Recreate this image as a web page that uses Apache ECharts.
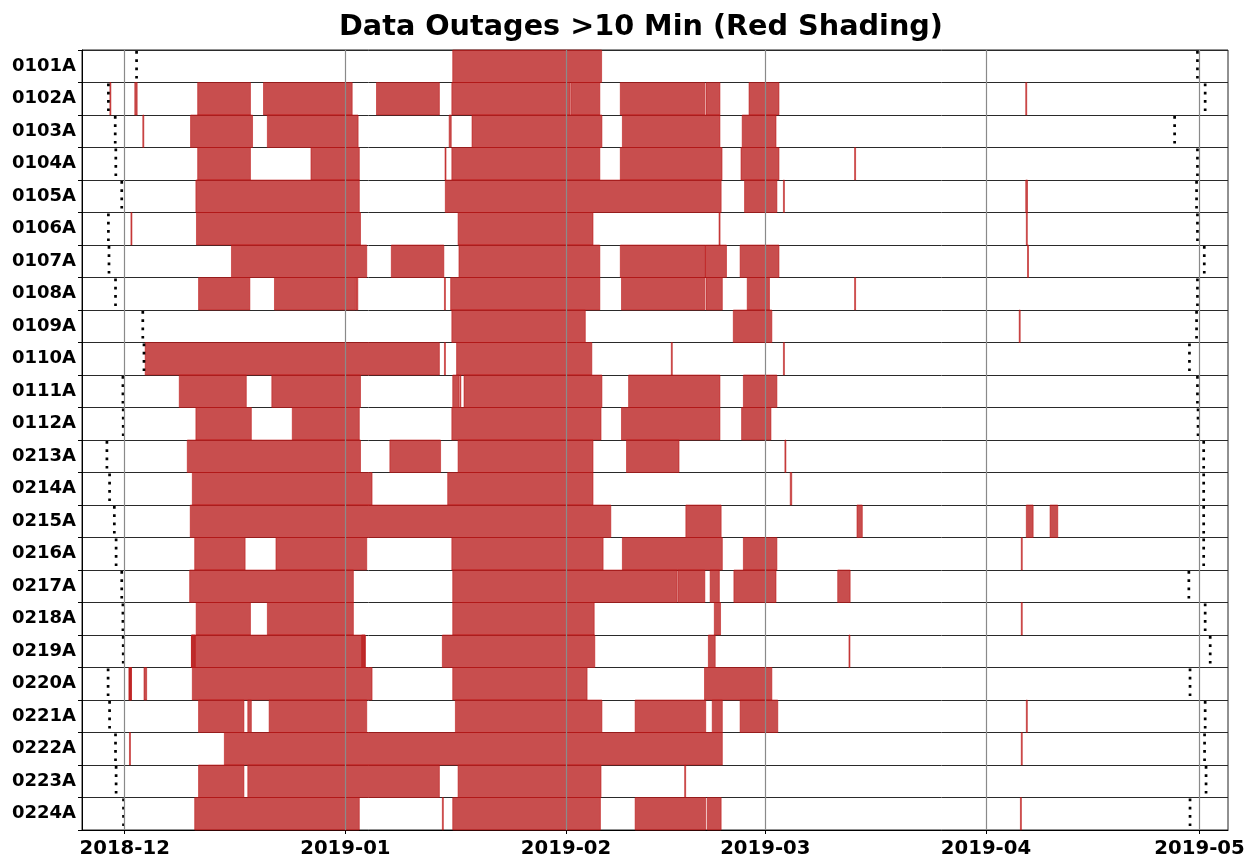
<!DOCTYPE html>
<html>
<head>
<meta charset="utf-8">
<script src="https://cdn.jsdelivr.net/npm/echarts@6/dist/echarts.min.js"></script>
<style>
  html, body { margin: 0; padding: 0; background: #fff; }
  #chart { width: 1255px; height: 859px; }
</style>
</head>
<body>
<div id="chart"></div>
<script>
// station rows, top to bottom
var stations = ['0101A','0102A','0103A','0104A','0105A','0106A','0107A','0108A',
                '0109A','0110A','0111A','0112A','0213A','0214A','0215A','0216A',
                '0217A','0218A','0219A','0220A','0221A','0222A','0223A','0224A'];

// month ticks on the time axis
var monthTicks = ['12-01 00','01-01 00','02-01 00','03-01 00','04-01 00','05-01 00'];

// first / last record of each station (dotted lines), 'MM-DD HH'
var firstSeen = ['12-02 16','11-28 17','11-29 16','11-29 18','11-30 14','11-28 17','11-28 19','11-29 17',
                 '12-03 13','12-03 17','11-30 18','11-30 19','11-28 12','11-28 21','11-29 13','11-29 19',
                 '11-30 14','11-30 18','11-30 19','11-28 16','11-28 21','11-29 17','11-29 19','11-30 20'];
var lastSeen  = ['04-30 17','05-01 19','04-27 12','04-30 17','04-30 14','04-30 17','05-01 16','04-30 17',
                 '04-30 14','04-29 14','04-30 17','04-30 19','05-01 14','05-01 14','05-01 14','05-01 14',
                 '04-29 12','05-01 19','05-02 12','04-29 16','05-01 19','05-01 17','05-01 22','04-29 16'];

// outages longer than 10 minutes, per station: [start, end]
var outages = [
  [['01-16 02','02-06 00']],
  [['11-28 22','11-29 01'],['12-02 10','12-02 18'],['12-11 06','12-18 16'],['12-20 12','01-01 23'],
   ['01-05 09','01-14 05'],['01-15 23','02-01 14'],['02-01 17','02-05 18'],['02-08 15','02-20 12'],
   ['02-20 16','02-22 15'],['02-26 17','03-02 22'],['04-06 14','04-06 17']],
  [['12-03 13','12-03 16'],['12-10 06','12-18 23'],['12-21 01','01-02 19'],['01-15 14','01-15 21'],
   ['01-18 19','02-06 01'],['02-08 22','02-22 15'],['02-25 18','03-02 12']],
  [['12-11 06','12-18 16'],['12-27 04','01-02 23'],['01-15 00','01-15 03'],['01-15 23','02-05 18'],
   ['02-08 15','02-22 22'],['02-25 14','03-02 22'],['03-13 13','03-13 16']],
  [['12-11 00','01-02 23'],['01-15 01','02-22 19'],['02-26 02','03-02 15'],['03-03 13','03-03 16'],
   ['04-06 14','04-06 20']],
  [['12-01 21','12-02 00'],['12-11 02','01-03 03'],['01-16 20','02-04 19'],['02-22 12','02-22 15'],
   ['04-06 16','04-06 19']],
  [['12-16 00','01-04 00'],['01-07 11','01-14 20'],['01-16 23','02-05 18'],['02-08 15','02-20 14'],
   ['02-20 14','02-23 13'],['02-25 11','03-02 22'],['04-06 20','04-06 23']],
  [['12-11 09','12-18 14'],['12-22 01','01-02 10'],['01-02 12','01-02 18'],['01-14 22','01-15 01'],
   ['01-15 19','02-05 18'],['02-08 19','02-20 12'],['02-20 16','02-22 23'],['02-26 11','03-01 14'],
   ['03-13 13','03-13 16']],
  [['01-15 23','02-03 17'],['02-24 12','03-01 22'],['04-05 16','04-05 19']],
  [['12-03 21','01-14 05'],['01-14 22','01-15 01'],['01-16 15','02-04 15'],['02-15 19','02-15 22'],
   ['03-03 13','03-03 16']],
  [['12-08 16','12-18 02'],['12-21 16','01-03 03'],['01-16 02','01-16 23'],['01-17 02','01-17 05'],
   ['01-17 16','02-06 01'],['02-09 19','02-22 15'],['02-25 22','03-02 15']],
  [['12-11 00','12-18 19'],['12-24 13','01-02 23'],['01-15 23','02-05 22'],['02-08 19','02-22 15'],
   ['02-25 16','03-01 19']],
  [['12-09 19','01-03 03'],['01-07 06','01-14 09'],['01-16 20','02-04 19'],['02-09 12','02-16 21'],
   ['03-03 18','03-03 21']],
  [['12-10 12','01-04 18'],['01-15 09','02-04 19'],['03-04 12','03-04 17']],
  [['12-10 05','02-07 07'],['02-17 20','02-22 19'],['03-13 21','03-14 15'],['04-06 16','04-07 15'],
   ['04-10 00','04-11 02']],
  [['12-10 20','12-17 22'],['12-22 06','01-04 00'],['01-15 23','02-06 05'],['02-08 22','02-22 23'],
   ['02-25 22','03-02 15'],['04-05 23','04-06 02']],
  [['12-10 03','01-02 03'],['01-16 02','02-16 14'],['02-16 17','02-20 12'],['02-21 06','02-22 13'],
   ['02-24 14','03-02 12'],['03-11 04','03-12 22']],
  [['12-11 01','12-18 16'],['12-21 01','01-02 03'],['01-16 02','02-04 23'],['02-21 20','02-22 17'],
   ['04-05 23','04-06 02']],
  [['12-10 09','01-03 19'],['12-10 09','12-10 22'],['01-03 07','01-03 19'],['01-14 15','02-05 01'],
   ['02-21 00','02-21 23'],['03-12 18','03-12 21']],
  [['12-01 14','12-01 23'],['12-01 16','12-01 22'],['12-03 17','12-04 02'],['12-10 12','01-04 18'],
   ['01-16 02','02-03 23'],['02-20 11','03-01 22']],
  [['12-11 09','12-17 18'],['12-18 07','12-18 19'],['12-21 07','01-04 00'],['01-16 11','02-06 01'],
   ['02-10 17','02-20 15'],['02-21 13','02-22 23'],['02-25 11','03-02 18'],['04-06 16','04-06 19']],
  [['12-01 16','12-01 19'],['12-15 00','02-22 23'],['04-05 23','04-06 02']],
  [['12-11 09','12-17 18'],['12-18 07','01-14 05'],['01-16 20','02-05 22'],['02-17 16','02-17 19']],
  [['12-10 20','01-02 23'],['01-14 15','01-14 18'],['01-16 02','02-05 20'],['02-10 17','02-20 15'],
   ['02-20 20','02-22 19'],['04-05 20','04-05 23']]
];

// 'MM-DD HH' -> ms (Nov/Dec are 2018, rest 2019)
function t(s) {
    var p = s.split(' ');
    var md = p[0].split('-');
    var m = +md[0], d = +md[1];
    var y = m >= 11 ? 2018 : 2019;
    return Date.UTC(y, m - 1, d, +p[1]);
}

var outageData = [];
outages.forEach(function (list, row) {
    list.forEach(function (o) {
        outageData.push([t(o[0]), t(o[1]), row]);
    });
});
var markData = [];
firstSeen.forEach(function (s, row) { markData.push([t(s), row]); });
lastSeen.forEach(function (s, row) { markData.push([t(s), row]); });
var monthValues = monthTicks.map(t);

var chart = echarts.init(document.getElementById('chart'));
var font = 'DejaVu Sans';

chart.setOption({
    animation: false,
    textStyle: { fontFamily: font },
    title: {
        text: 'Data Outages >10 Min (Red Shading)',
        left: 334,
        top: 8,
        textStyle: { fontSize: 28.7, fontWeight: 'bold', color: '#000', fontFamily: font }
    },
    grid: {
        left: 82, top: 50, width: 1146, height: 782,
        show: true, borderColor: '#222', borderWidth: 1, backgroundColor: '#fff'
    },
    xAxis: {
        type: 'value',
        min: t('11-25 00'),
        max: t('05-05 00'),
        axisLine: { show: true, lineStyle: { color: '#000', width: 1 } },
        axisTick: { show: true, length: 4, customValues: monthValues, lineStyle: { color: '#000' } },
        axisLabel: {
            customValues: monthValues,
            margin: 9,
            fontSize: 19.7,
            fontWeight: 'bold',
            color: '#000',
            fontFamily: font,
            formatter: function (v) {
                var d = new Date(v);
                var m = d.getUTCMonth() + 1;
                return d.getUTCFullYear() + '-' + (m < 10 ? '0' + m : m);
            }
        },
        splitLine: { show: false }
    },
    yAxis: {
        type: 'category',
        data: stations,
        inverse: true,
        axisLine: { show: true, lineStyle: { color: '#000' } },
        axisTick: { show: true, length: 4, lineStyle: { color: '#000' } },
        axisLabel: { fontSize: 18, fontWeight: 'bold', color: '#000', margin: 6, fontFamily: font },
        splitLine: { show: true, lineStyle: { color: '#2a2a2a', width: 1 } }
    },
    series: [
        {
            // month gridlines, drawn beneath the shading
            type: 'line',
            data: [],
            z: 1,
            markLine: {
                silent: true,
                symbol: 'none',
                label: { show: false },
                lineStyle: { color: '#8a8a8a', type: 'solid', width: 1.2 },
                data: monthValues.map(function (v) { return { xAxis: v }; })
            }
        },
        {
            type: 'custom',
            z: 2,
            encode: { x: [0, 1], y: 2 },
            data: outageData,
            renderItem: function (params, api) {
                var row = api.value(2);
                var a = api.coord([api.value(0), row]);
                var b = api.coord([api.value(1), row]);
                var h = api.size([0, 1])[1];
                var w = Math.max(b[0] - a[0], 1);
                return {
                    type: 'rect',
                    shape: { x: a[0], y: a[1] - h / 2, width: w, height: h },
                    style: {
                        fill: 'rgba(186,34,34,0.8)',
                        stroke: 'rgba(190,20,20,0.55)',
                        lineWidth: 1
                    }
                };
            }
        },
        {
            type: 'custom',
            z: 3,
            encode: { x: 0, y: 1 },
            data: markData,
            renderItem: function (params, api) {
                var p = api.coord([api.value(0), api.value(1)]);
                var h = api.size([0, 1])[1];
                return {
                    type: 'line',
                    shape: { x1: p[0], y1: p[1] - h / 2 + 1, x2: p[0], y2: p[1] + h / 2 },
                    style: { stroke: '#000', lineWidth: 2.7, lineDash: [2.7, 5.6] }
                };
            }
        }
    ]
});
</script>
</body>
</html>
